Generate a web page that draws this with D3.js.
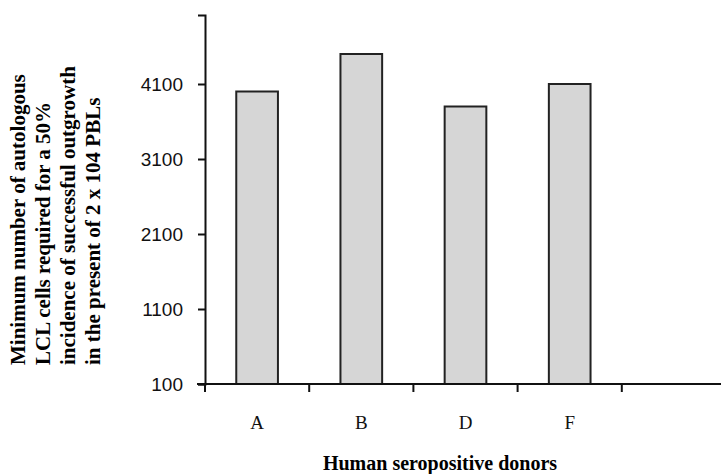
<!DOCTYPE html>
<html>
<head>
<meta charset="utf-8">
<script src="https://cdn.jsdelivr.net/npm/d3@7"></script>
<style>
  body { margin: 0; background: #fff; }
</style>
</head>
<body>
<script>
// donors on the x axis, the last slot is left empty like the original
var donors = ["A", "B", "D", "F", ""];
var minCells = [4000, 4500, 3800, 4100];
var yTicks = [100, 1100, 2100, 3100, 4100];
var yTitle = ["Minimum number of autologous",
              "LCL cells required for a 50%",
              "incidence of successful outgrowth",
              "in the present of 2 x 104 PBLs"];
var xTitle = "Human seropositive donors";

var width = 721, height = 474;
var svg = d3.select("body").append("svg").attr("width", width).attr("height", height);

var x = d3.scaleBand().domain(donors).range([205, 726]).paddingInner(0).paddingOuter(0);
var y = d3.scaleLinear().domain([100, 5020]).range([384, 15]);

// bars
svg.selectAll("rect.bar")
  .data(minCells)
  .enter().append("rect")
  .attr("class", "bar")
  .attr("x", function(d, i) { return x(donors[i]) + x.bandwidth() * 0.3; })
  .attr("width", x.bandwidth() * 0.4)
  .attr("y", function(d) { return y(d); })
  .attr("height", function(d) { return y(100) - y(d); })
  .attr("fill", "#d6d6d6")
  .attr("stroke", "#222")
  .attr("stroke-width", 2);

// y axis
var yAxis = svg.append("g").attr("transform", "translate(205,0)")
  .call(d3.axisLeft(y).tickValues(yTicks).tickSize(7).tickPadding(15).tickFormat(d3.format("d")));
yAxis.select(".domain").attr("stroke", "#111").attr("stroke-width", 2);
yAxis.selectAll(".tick line").attr("stroke", "#111").attr("stroke-width", 2);
yAxis.selectAll("text").attr("font-family", "Liberation Sans, Arial, sans-serif")
  .attr("font-size", 19).attr("fill", "#111");

// x axis, line runs off the right edge
var xAxis = svg.append("g").attr("transform", "translate(0,384)")
  .call(d3.axisBottom(x).tickSize(0).tickPadding(32));
xAxis.select(".domain").attr("d", "M197,0H721").attr("stroke", "#111").attr("stroke-width", 2);
xAxis.selectAll("text").attr("font-family", "Liberation Serif, Courier New, serif")
  .attr("font-size", 19).attr("fill", "#111");

// ticks between the bands
svg.selectAll("line.xtick")
  .data(donors)
  .enter().append("line")
  .attr("class", "xtick")
  .attr("x1", function(d) { return x(d); })
  .attr("x2", function(d) { return x(d); })
  .attr("y1", 384).attr("y2", 392)
  .attr("stroke", "#111").attr("stroke-width", 2);

// axis titles
svg.append("g").attr("transform", "translate(0,365) rotate(-90)")
  .selectAll("text")
  .data(yTitle)
  .enter().append("text")
  .attr("x", 0)
  .attr("y", function(d, i) { return 25 + i * 25; })
  .attr("font-family", "Liberation Serif, Times New Roman, serif")
  .attr("font-weight", "bold")
  .attr("font-size", 21)
  .text(function(d) { return d; });

svg.append("text")
  .attr("x", 440).attr("y", 470)
  .attr("text-anchor", "middle")
  .attr("font-family", "Liberation Serif, Times New Roman, serif")
  .attr("font-weight", "bold")
  .attr("font-size", 20)
  .text(xTitle);
</script>
</body>
</html>
